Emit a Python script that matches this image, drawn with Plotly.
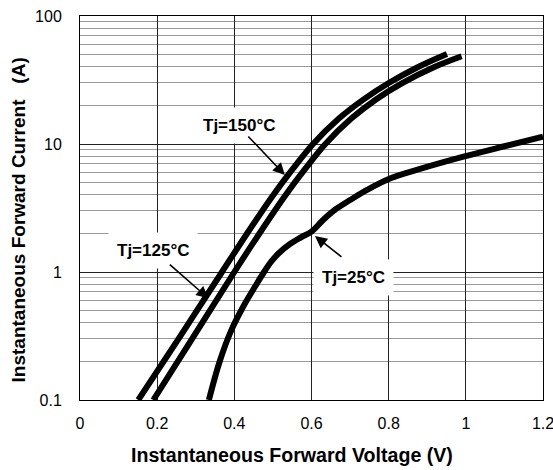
import math
import plotly.graph_objects as go

# Forward characteristics (V, A)
v150 = [0.151, 0.260, 0.368, 0.433, 0.501, 0.550, 0.604, 0.671, 0.736, 0.799, 0.875, 0.951]
i150 = [0.10, 0.316, 1.0, 2.0, 4.0, 6.3, 10.0, 15.8, 22.4, 29.8, 39.8, 50.5]

v125 = [0.190, 0.295, 0.400, 0.465, 0.533, 0.582, 0.636, 0.703, 0.768, 0.834, 0.917, 0.989]
i125 = [0.10, 0.316, 1.0, 2.0, 4.0, 6.3, 10.0, 15.8, 22.4, 29.8, 39.8, 48.5]

v25 = [0.334, 0.362, 0.392, 0.425, 0.455, 0.477, 0.497, 0.515, 0.545, 0.575, 0.600,
       0.630, 0.660, 0.700, 0.745, 0.805, 0.890, 0.994, 1.100, 1.200]
i25 = [0.10, 0.20, 0.35, 0.55, 0.78, 1.0, 1.22, 1.40, 1.66, 1.88, 2.07,
       2.55, 3.05, 3.65, 4.4, 5.4, 6.5, 7.96, 9.6, 11.4]

x_ticks = [0, 0.2, 0.4, 0.6, 0.8, 1.0, 1.2]
x_ticktext = ["0", "0.2", "0.4", "0.6", "0.8", "1", "1.2"]
y_ticks = [0.1, 1, 10, 100]
y_ticktext = ["0.1", "1", "10", "100"]
y_minor = [m * d for d in (0.1, 1, 10) for m in range(2, 10)]

FONT = "Liberation Sans, Arial, sans-serif"

fig = go.Figure()
for v, i, name in [(v150, i150, "Tj=150°C"), (v125, i125, "Tj=125°C"), (v25, i25, "Tj=25°C")]:
    fig.add_trace(go.Scatter(x=v, y=i, mode="lines", name=name,
                             line=dict(color="black", width=6, shape="spline", smoothing=1.0),
                             showlegend=False, hoverinfo="skip"))

fig.update_layout(
    width=553, height=470,
    margin=dict(l=80, r=10, t=16, b=70, autoexpand=False),
    paper_bgcolor="white", plot_bgcolor="white",
    font=dict(family=FONT, color="black", size=16),
)
fig.update_xaxes(
    range=[0, 1.2], tickvals=x_ticks, ticktext=x_ticktext,
    showgrid=True, gridcolor="#222222", gridwidth=1,
    showline=True, linecolor="black", linewidth=1, mirror=True,
    zeroline=False, ticks="", ticklabelstandoff=9, ticklabeloverflow="allow",
    automargin=False,
    tickfont=dict(size=16, family=FONT),
)
fig.update_yaxes(
    type="log", range=[-1, 2], tickvals=y_ticks, ticktext=y_ticktext,
    showgrid=True, gridcolor="#222222", gridwidth=1,
    minor=dict(tickvals=y_minor, showgrid=True, gridcolor="#9a9a9a", gridwidth=1, ticks=""),
    showline=True, linecolor="black", linewidth=1, mirror=True,
    zeroline=False, ticks="", ticklabelstandoff=14, ticklabeloverflow="allow",
    automargin=False,
    tickfont=dict(size=16, family=FONT),
)

# Axis titles
fig.add_annotation(text="<b>Instantaneous Forward Voltage (V)</b>", xref="paper", yref="paper",
                   x=0.458, y=-0.143, xanchor="center", yanchor="middle", showarrow=False,
                   font=dict(size=19.6, family=FONT))
fig.add_annotation(text="<b>Instantaneous Forward Current\u00a0\u00a0\u00a0(A)</b>", xref="paper", yref="paper",
                   x=-0.132, y=0.470, xanchor="center", yanchor="middle", showarrow=False,
                   textangle=-90, font=dict(size=19, family=FONT))

# Curve labels (white boxes)
labels = [("Tj=150°C", 0.412, 14.07), ("Tj=125°C", 0.189, 1.46), ("Tj=25°C", 0.710, 0.90)]
for txt, x, y in labels:
    fig.add_annotation(text="<b>" + txt + "</b>", x=x, y=math.log10(y),
                       xanchor="center", yanchor="middle", showarrow=False,
                       bgcolor="white", borderpad=8, font=dict(size=17, family=FONT))

# Arrows
arrows = [(0.531, 5.73, -38, -40), (0.3326, 0.623, -40, -35), (0.609, 1.91, 28, 22)]
for x, y, ax, ay in arrows:
    fig.add_annotation(text="", x=x, y=math.log10(y), ax=ax, ay=ay,
                       showarrow=True, arrowhead=2, arrowsize=1.5, arrowwidth=1.6,
                       arrowcolor="black")

fig.write_html("out.html")
